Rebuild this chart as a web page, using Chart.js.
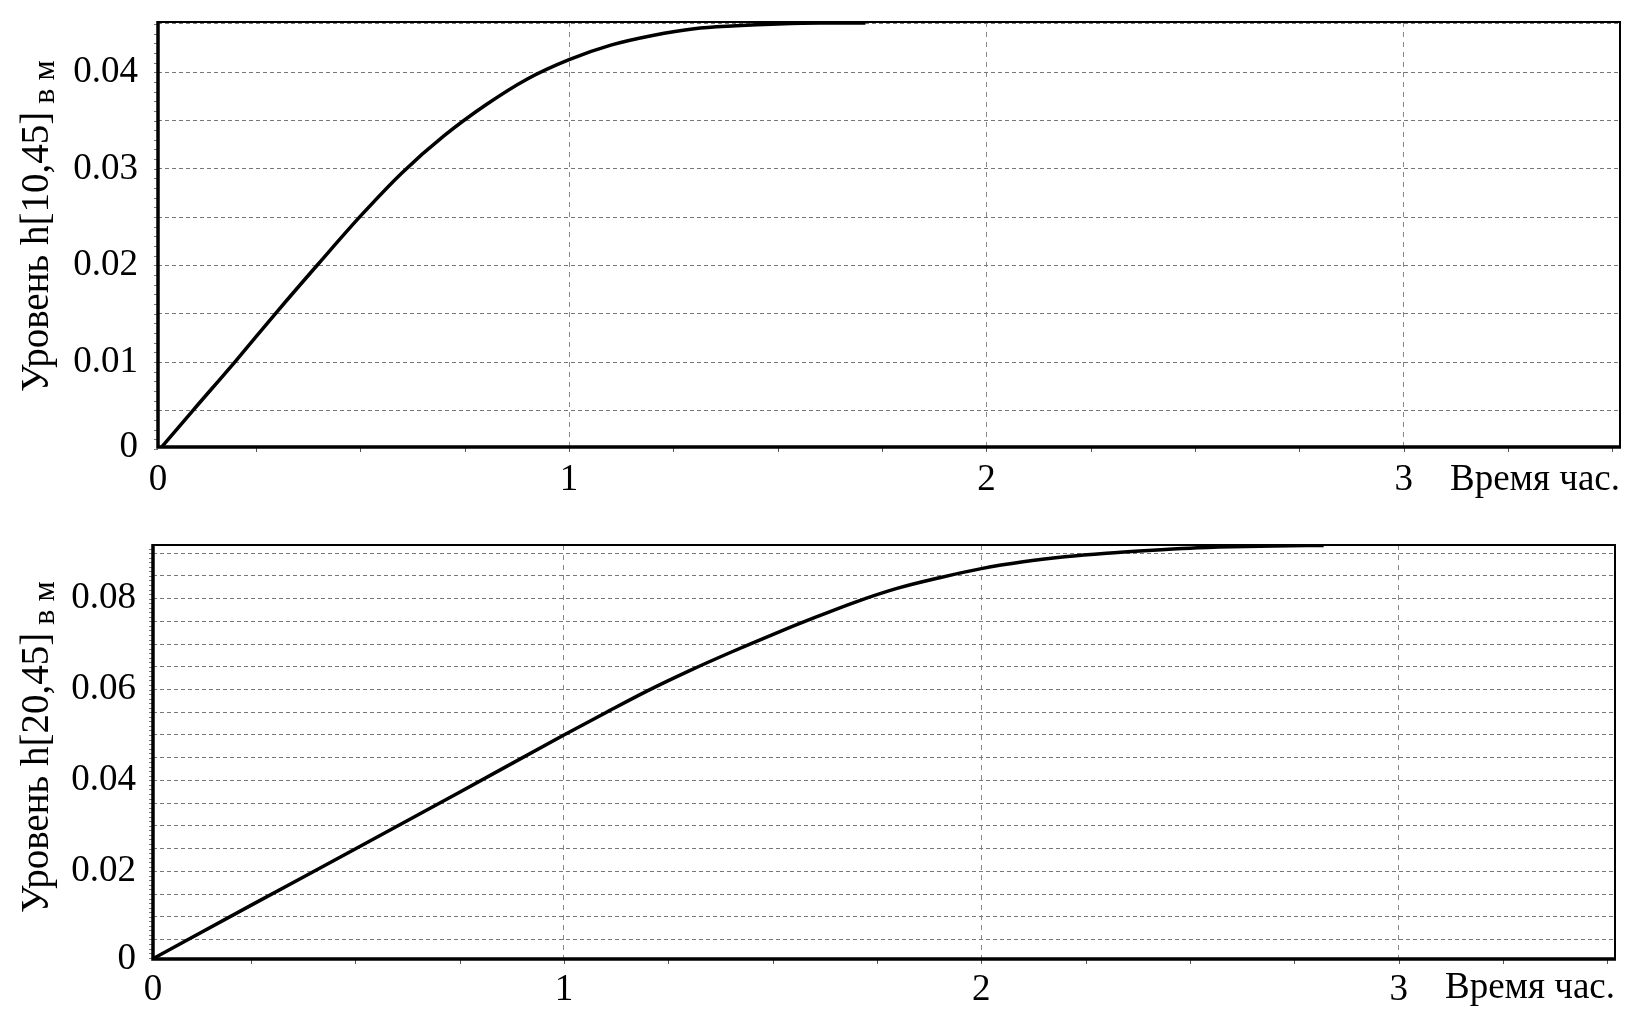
<!DOCTYPE html>
<html>
<head>
<meta charset="utf-8">
<script src="https://cdn.jsdelivr.net/npm/chart.js@4.4.0/dist/chart.umd.min.js"></script>
<style>
  html, body { margin: 0; padding: 0; background: #fff; }
  .wrap { position: absolute; left: 0; width: 1644px; }
  #topWrap { top: 0; height: 505px; }
  #bottomWrap { top: 505px; height: 522px; }
</style>
</head>
<body>
<div class="wrap" id="topWrap"><canvas id="topChart"></canvas></div>
<div class="wrap" id="bottomWrap"><canvas id="bottomChart"></canvas></div>
<script>
// Upper chart: h[10,45]
const topTime  = [0, 0.1, 0.2, 0.3, 0.4, 0.5, 0.6, 0.7, 0.8, 0.9, 1.0, 1.1, 1.2, 1.3, 1.4, 1.5, 1.6, 1.71];
const topLevel = [0, 0.00505, 0.01005, 0.0152, 0.0202, 0.0251, 0.0296, 0.0334, 0.0366, 0.0393, 0.0413, 0.0428, 0.0438, 0.0445, 0.0448, 0.0450, 0.0451, 0.0451];

// Lower chart: h[20,45]
const bottomTime  = [0, 0.25, 0.5, 0.75, 1.0, 1.1, 1.2, 1.3, 1.4, 1.5, 1.6, 1.7, 1.8, 1.9, 2.0, 2.1, 2.2, 2.3, 2.4, 2.5, 2.6, 2.7, 2.82];
const bottomLevel = [0, 0.0125, 0.0249, 0.0374, 0.0500, 0.0549, 0.0597, 0.0641, 0.0682, 0.0721, 0.0758, 0.0793, 0.0823, 0.0846, 0.0866, 0.0881, 0.0892, 0.0900, 0.0906, 0.0911, 0.0914, 0.0916, 0.0917];

// Tick labels
const xTickLabels = ['0', '1', '2', '3'];
const topYTickLabels = ['0', '0.01', '0.02', '0.03', '0.04'];
const bottomYTickLabels = ['0', '0.02', '0.04', '0.06', '0.08'];
const yGridStep = 0.005;
const yMinorStep = 0.001;
const xMinorStep = 0.25;

const topTitle = ['Уровень h[10,45]', ' в м'];
const bottomTitle = ['Уровень h[20,45]', ' в м'];
const xTitle = 'Время час.';

const FONT = '"Liberation Serif", "Times New Roman", serif';

// Frame, minor ticks and axis titles
const decorPlugin = {
    id: 'decor',
    afterDraw(chart, args, opts) {
        const ctx = chart.ctx;
        const a = chart.chartArea;
        const xs = chart.scales.x;
        const ys = chart.scales.y;
        ctx.save();

        // minor ticks along x axis
        ctx.strokeStyle = '#555';
        ctx.lineWidth = 1;
        for (let v = xMinorStep; v <= xs.max + 1e-9; v += xMinorStep) {
            const px = Math.round(xs.getPixelForValue(v)) + 0.5;
            const major = Math.abs(v - Math.round(v)) < 1e-6;
            ctx.setLineDash(major ? [5, 4] : []);
            ctx.beginPath();
            ctx.moveTo(px, a.bottom);
            ctx.lineTo(px, a.bottom + (major ? 9 : 5));
            ctx.stroke();
        }
        ctx.setLineDash([]);

        // minor ticks along y axis
        ctx.strokeStyle = '#777';
        for (let v = yMinorStep; v <= ys.max + 1e-9; v += yMinorStep) {
            const py = Math.round(ys.getPixelForValue(v)) + 0.5;
            ctx.beginPath();
            ctx.moveTo(a.left - 4, py);
            ctx.lineTo(a.left, py);
            ctx.stroke();
        }

        // frame
        ctx.strokeStyle = '#000';
        ctx.lineWidth = 2;
        ctx.strokeRect(a.left, a.top, a.right - a.left, a.bottom - a.top);
        ctx.lineWidth = 3.5;
        ctx.beginPath();
        ctx.moveTo(a.left, a.top - 1);
        ctx.lineTo(a.left, a.bottom);
        ctx.lineTo(a.right + 1, a.bottom);
        ctx.stroke();

        // x axis title next to the tick labels
        ctx.fillStyle = '#000';
        ctx.font = '37px ' + FONT;
        ctx.textAlign = 'right';
        ctx.textBaseline = 'middle';
        ctx.fillText(xTitle, a.right, a.bottom + opts.xTitleOffset);

        // rotated y axis title, units smaller and lowered
        ctx.translate(opts.yTitleX, opts.yTitleStart);
        ctx.rotate(-Math.PI / 2);
        ctx.textAlign = 'left';
        ctx.textBaseline = 'alphabetic';
        ctx.font = '39px ' + FONT;
        ctx.fillText(opts.title[0], 0, 0);
        const w = ctx.measureText(opts.title[0]).width;
        ctx.font = '32px ' + FONT;
        ctx.fillText(opts.title[1], w, 6);
        ctx.restore();
    }
};

function buildChart(id, time, level, cfg) {
    const yLabelValues = cfg.yLabels.map(s => parseFloat(s));
    const xLabelValues = xTickLabels.map(s => parseFloat(s));
    const ctx = document.getElementById(id).getContext('2d');
    return new Chart(ctx, {
        type: 'line',
        data: {
            datasets: [{
                data: time.map((t, i) => ({ x: t, y: level[i] })),
                borderColor: '#000',
                borderWidth: 3.5,
                pointRadius: 0,
                fill: false,
                cubicInterpolationMode: 'monotone'
            }]
        },
        options: {
            responsive: true,
            maintainAspectRatio: false,
            animation: false,
            events: [],
            layout: { padding: { top: cfg.padTop, right: cfg.padRight, left: 0, bottom: 0 } },
            plugins: {
                legend: { display: false },
                tooltip: { enabled: false },
                decor: { title: cfg.title, yTitleX: cfg.yTitleX, yTitleStart: cfg.yTitleStart, xTitleOffset: cfg.xTitleOffset }
            },
            scales: {
                x: {
                    type: 'linear',
                    min: cfg.xMin,
                    max: cfg.xMax,
                    afterBuildTicks(scale) {
                        scale.ticks = xLabelValues.map(v => ({ value: v === 0 ? cfg.xMin : v }));
                    },
                    afterFit(scale) {
                        scale.height = cfg.xHeight;
                        scale.paddingLeft = 0;
                        scale.paddingRight = 0;
                    },
                    ticks: {
                        autoSkip: false,
                        maxRotation: 0,
                        padding: cfg.xTickPad,
                        color: '#000',
                        font: { family: FONT, size: 37 },
                        callback(value) {
                            if (Math.abs(value - cfg.xMin) < 1e-9) return xTickLabels[0];
                            const i = xLabelValues.findIndex(v => Math.abs(v - value) < 1e-9);
                            return i >= 0 ? xTickLabels[i] : '';
                        }
                    },
                    grid: { color: '#888', lineWidth: 1, drawTicks: false },
                    border: { display: false, dash: [5, 5] }
                },
                y: {
                    type: 'linear',
                    min: cfg.yMin,
                    max: cfg.yMax,
                    afterBuildTicks(scale) {
                        const ticks = [{ value: cfg.yMin }];
                        for (let v = yGridStep; v <= cfg.yMax + 1e-9; v += yGridStep) ticks.push({ value: v });
                        scale.ticks = ticks;
                    },
                    afterFit(scale) {
                        scale.width = cfg.yWidth;
                        scale.paddingTop = 0;
                        scale.paddingBottom = 0;
                    },
                    ticks: {
                        autoSkip: false,
                        padding: cfg.yTickPad,
                        color: '#000',
                        font: { family: FONT, size: 37 },
                        callback(value) {
                            if (Math.abs(value - cfg.yMin) < 1e-9) return cfg.yLabels[0];
                            const i = yLabelValues.findIndex(v => v > 0 && Math.abs(v - value) < 1e-7);
                            return i >= 0 ? cfg.yLabels[i] : '';
                        }
                    },
                    grid: { color: '#777', lineWidth: 1, drawTicks: false },
                    border: { display: false, dash: [4, 3] }
                }
            }
        },
        plugins: [decorPlugin]
    });
}

buildChart('topChart', topTime, topLevel, {
    yLabels: topYTickLabels,
    title: topTitle,
    xMin: 0.015, xMax: 3.518,
    yMin: 0.0012, yMax: 0.0452,
    padTop: 22, padRight: 24,
    yWidth: 158, xHeight: 58,
    yTickPad: 20, xTickPad: 11,
    yTitleX: 48, yTitleStart: 392,
    xTitleOffset: 33
});

buildChart('bottomChart', bottomTime, bottomLevel, {
    yLabels: bottomYTickLabels,
    title: bottomTitle,
    xMin: 0.0156, xMax: 3.518,
    yMin: 0.0007, yMax: 0.0918,
    padTop: 40, padRight: 29,
    yWidth: 153, xHeight: 68,
    yTickPad: 17, xTickPad: 9,
    yTitleX: 48, yTitleStart: 408,
    xTitleOffset: 29
});
</script>
</body>
</html>
